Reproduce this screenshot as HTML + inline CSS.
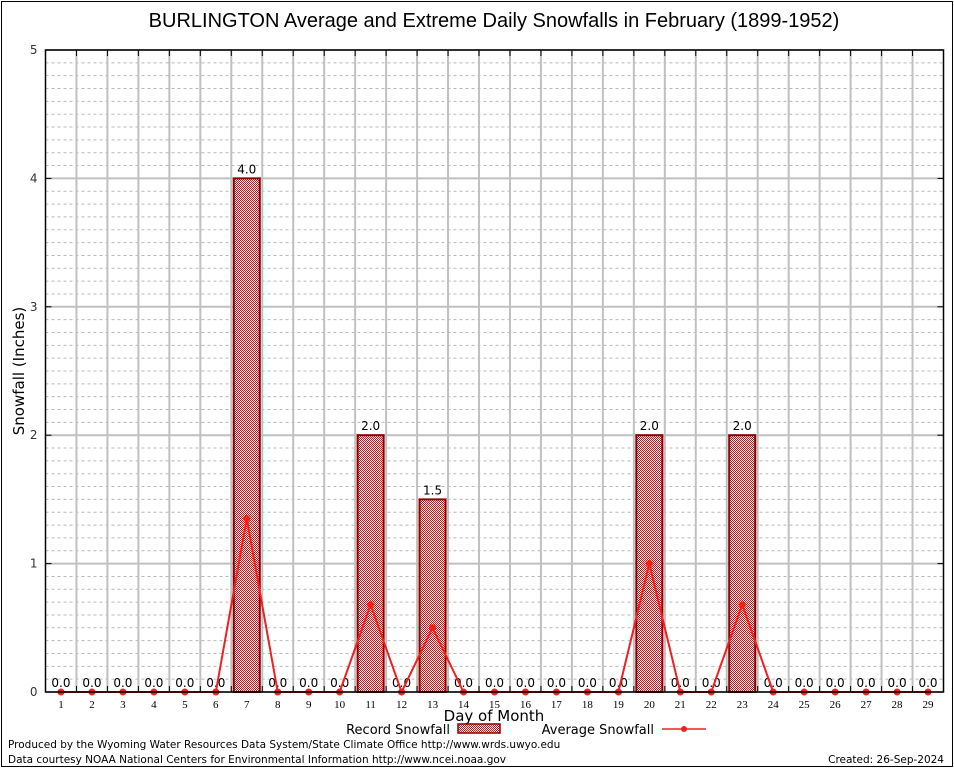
<!DOCTYPE html>
<html><head><meta charset="utf-8"><style>
body{margin:0;background:#fff;}
svg{display:block;font-family:"DejaVu Sans","Liberation Sans",sans-serif;}
</style></head><body>
<svg id="chart" width="954" height="768" xmlns="http://www.w3.org/2000/svg">
<defs>
<pattern id="chk" width="2" height="2" patternUnits="userSpaceOnUse">
<rect width="2" height="2" fill="#fff"/><rect width="1" height="1" fill="#c81414"/><rect x="1" y="1" width="1" height="1" fill="#c81414"/>
</pattern>
</defs>
<rect x="1.5" y="1.5" width="951" height="765" fill="#fff" stroke="#000" stroke-width="1"/>
<text x="494" y="27" font-size="20" text-anchor="middle" font-family="Liberation Sans, sans-serif">BURLINGTON Average and Extreme Daily Snowfalls in February (1899-1952)</text>
<g id="grid"></g>
<g id="bars"></g>
<g id="line"></g>
<g id="axes"></g>
<text x="24" y="371" font-size="15" text-anchor="middle" transform="rotate(-90 24 371)">Snowfall (Inches)</text>
<text x="494" y="721" font-size="15" text-anchor="middle">Day of Month</text>
<g>
<text x="450" y="734" font-size="13" text-anchor="end">Record Snowfall</text>
<rect x="458" y="724" width="42" height="9" fill="url(#chk)" stroke="#8b0000" stroke-width="1.5"/>
</g>
<g>
<text x="654" y="734" font-size="13" text-anchor="end">Average Snowfall</text>
<line x1="662" y1="729" x2="706" y2="729" stroke="#f02020" stroke-width="1.5"/>
<circle cx="684" cy="729" r="3" fill="#f02020"/>
</g>
<text x="8" y="748" font-size="10.5">Produced by the Wyoming Water Resources Data System/State Climate Office http://www.wrds.uwyo.edu</text>
<text x="8" y="763" font-size="10.5">Data courtesy NOAA National Centers for Environmental Information http://www.ncei.noaa.gov</text>
<text x="944" y="763" font-size="10.5" text-anchor="end">Created: 26-Sep-2024</text>
</svg>
<script>
const days=[1,2,3,4,5,6,7,8,9,10,11,12,13,14,15,16,17,18,19,20,21,22,23,24,25,26,27,28,29];
const recordVals=[0,0,0,0,0,0,4.0,0,0,0,2.0,0,1.5,0,0,0,0,0,0,2.0,0,0,2.0,0,0,0,0,0,0];
const avgVals=[0,0,0,0,0,0,1.35,0,0,0,0.68,0,0.5,0,0,0,0,0,0,1.0,0,0,0.68,0,0,0,0,0,0];
const yTicks=[0,1,2,3,4,5];
const L=45.5,R=943.5,T=50,B=692,YMAX=5;
const bw=(R-L)/days.length;
const xs=i=>L+bw*(i+0.5);
const ys=v=>B-(B-T)*v/YMAX;
const NS="http://www.w3.org/2000/svg";
function mk(tag,attrs,parent){const e=document.createElementNS(NS,tag);for(const k in attrs)e.setAttribute(k,attrs[k]);parent.appendChild(e);return e;}
const grid=document.getElementById('grid'),bars=document.getElementById('bars'),line=document.getElementById('line'),axes=document.getElementById('axes');
for(let k=1;k<YMAX*10;k++){if(k%10===0)continue;const y=ys(k/10);
const g=mk('line',{x1:L,x2:R,y1:y,y2:y,stroke:'#b8b8b8','stroke-dasharray':'3,3','stroke-width':1},grid);
}
yTicks.forEach(t=>{const y=ys(t);
const g=mk('line',{x1:L,x2:R,y1:y,y2:y,stroke:'#c0c0c0','stroke-width':2},grid);

const tx=mk('text',{x:L-8,y:y+4,'font-size':12,'text-anchor':'end',fill:'#333'},axes);tx.textContent=t;

mk('line',{x1:L,x2:L+6,y1:y,y2:y,stroke:'#000'},axes);mk('line',{x1:R,x2:R-6,y1:y,y2:y,stroke:'#000'},axes);});
for(let i=1;i<days.length;i++){const x=L+bw*i;
const g=mk('line',{x1:x,x2:x,y1:T,y2:B,stroke:'#c0c0c0','stroke-width':2},grid);

mk('line',{x1:x,x2:x,y1:T,y2:T+6,stroke:'#000'},axes);mk('line',{x1:x,x2:x,y1:B,y2:B-6,stroke:'#000'},axes);}
days.forEach((d,i)=>{const v=recordVals[i];
if(v>0){const r=mk('rect',{x:xs(i)-13,y:ys(v),width:26,height:B-ys(v),fill:'url(#chk)',stroke:'#8b0000','stroke-width':2},bars);
}
const lb=mk('text',{x:xs(i),y:ys(v)-5,'font-size':12,'text-anchor':'middle'},bars);lb.textContent=v.toFixed(1);

const tl=mk('text',{x:xs(i),y:B+16,'font-size':11,'text-anchor':'middle','font-family':'Liberation Serif, serif'},axes);tl.textContent=d;
});
const pts=avgVals.map((v,i)=>xs(i)+','+ys(v)).join(' ');
const pl=mk('polyline',{points:pts,fill:'none',stroke:'#f02020','stroke-width':2},line);

avgVals.forEach((v,i)=>{const c=mk('circle',{cx:xs(i),cy:ys(v),r:3.5,fill:'#f02020'},line);
});
const fr=mk('rect',{x:L,y:T,width:R-L,height:B-T,fill:'none',stroke:'#000','stroke-width':1.5},axes);

</script>
</body></html>
